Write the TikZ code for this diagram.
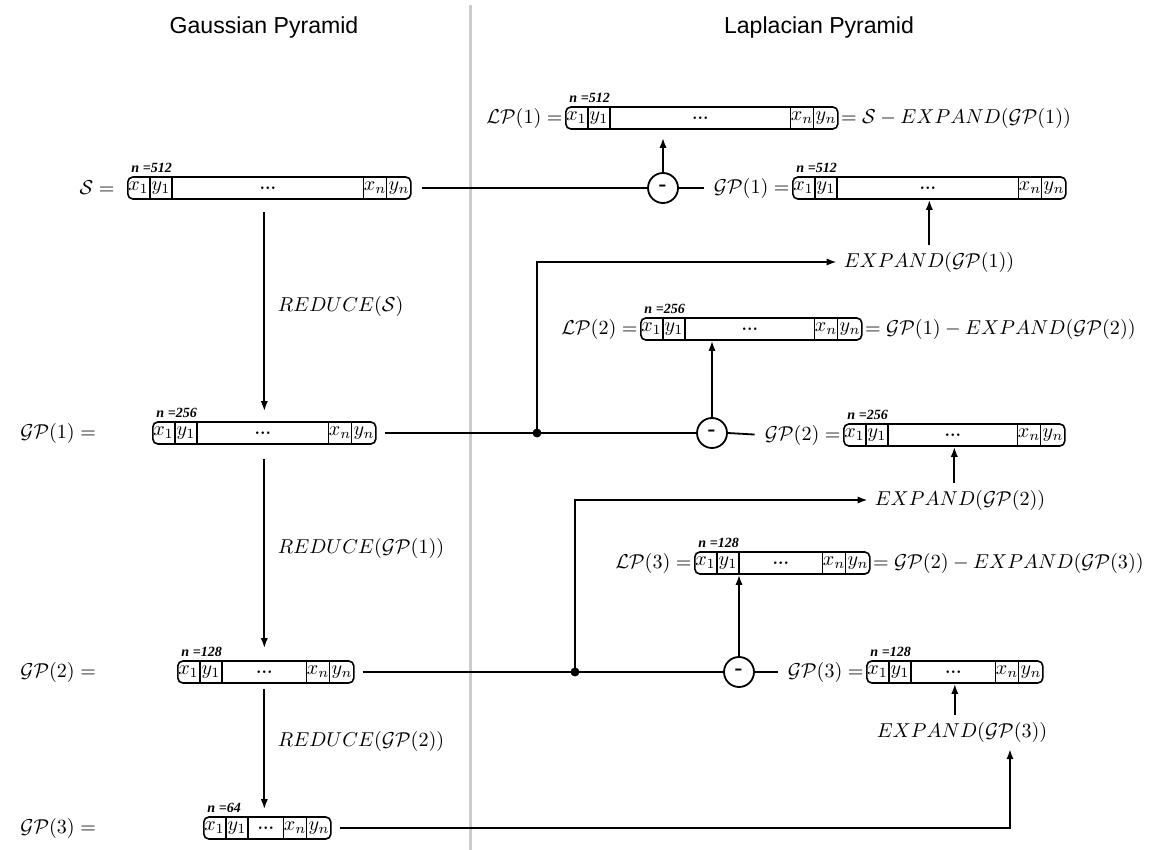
\documentclass[tikz,border=0pt]{standalone}
\usepackage{fontspec}
\newfontfamily\titlefont{Liberation Sans}
\newfontfamily\nfont{Liberation Serif}
\usetikzlibrary{calc}
\usetikzlibrary{arrows.meta}

\tikzset{
  vbox/.style={draw, rounded corners=2.5pt, minimum height=22*0.0175cm, inner sep=0pt, line width=0.8pt},
  cell/.style={inner sep=0pt},
  conn/.style={line width=0.9pt},
  arr/.style={conn, -{Latex[length=5pt,width=3.6pt]}},
  minus/.style={draw, circle, line width=0.9pt, minimum size=30*0.0175cm, inner sep=0pt, font=\bfseries},
  lbl/.style={inner sep=1pt},
  nlbl/.style={inner sep=0pt, font=\nfont\fontsize{7}{7}\selectfont\bfseries\itshape},
  ttl/.style={font=\titlefont\fontsize{11.5}{13}\selectfont},
}

% one array: name, left-middle point, width (px), n
\newcommand{\pyrvec}[4]{%
  \node[vbox, minimum width=#3*0.0175cm, anchor=west] (#1) at #2 {};
  \foreach \d in {23,45}
    \draw[line width=0.8pt] ([xshift=\d*0.0175cm]#1.north west) -- ([xshift=\d*0.0175cm]#1.south west);
  \foreach \d in {25,48}
    \draw[line width=0.8pt] ([xshift=-\d*0.0175cm]#1.north east) -- ([xshift=-\d*0.0175cm]#1.south east);
  \node[cell] (#1x1) at ([xshift=11.5*0.0175cm]#1.west) {$x_1$};
  \node[cell] (#1y1) at ([xshift=34*0.0175cm]#1.west) {$y_1$};
  \node[cell] (#1dots) at ([xshift=-1.5*0.0175cm]#1.center) {\footnotesize\bfseries ...};
  \node[cell] (#1xn) at ([xshift=-36.5*0.0175cm]#1.east) {$x_n$};
  \node[cell] (#1yn) at ([xshift=-12.5*0.0175cm]#1.east) {$y_n$};
  \node[nlbl, anchor=south west] (#1n) at ([xshift=2pt, yshift=1.5pt]#1.north west) {n =#4};
}

\begin{document}
\begin{tikzpicture}[x=0.0175cm, y=-0.0175cm]

\useasboundingbox (0,0) rectangle (1151,850);

\draw[gray!40, line width=1.5pt] (470,5) -- (470,850);

\node[ttl] (gtitle) at (264,28) {Gaussian Pyramid};
\node[ttl] (ltitle) at (819,28) {Laplacian Pyramid};

% Gaussian side
\pyrvec{S}{(127,188)}{283}{512}
\pyrvec{GPa}{(152,433)}{223}{256}
\pyrvec{GPb}{(177,672)}{176}{128}
\pyrvec{GPc}{(203,828)}{127}{64}

\node[lbl, anchor=east] (Slab) at (117,188) {$\mathcal{S} =$};
\node[lbl, anchor=west] (GPalab) at (18,433) {$\mathcal{GP}(1) =$};
\node[lbl, anchor=west] (GPblab) at (18,672) {$\mathcal{GP}(2) =$};
\node[lbl, anchor=west] (GPclab) at (18,828) {$\mathcal{GP}(3) =$};

\draw[arr, shorten <=6pt, shorten >=5pt] (S.south -| GPa.north) -- (GPa.north)
  node[midway, right=3pt, yshift=2pt] (red1) {$REDUCE(\mathcal{S})$};
\draw[arr, shorten <=7pt, shorten >=6pt] (GPa.south) -- (GPa.south |- GPb.north)
  node[midway, right=3pt, yshift=2pt] (red2) {$REDUCE(\mathcal{GP}(1))$};
\draw[arr, shorten <=2.5pt, shorten >=3.5pt] (GPb.south -| GPa.south) -- (GPc.north -| GPa.south)
  node[midway, right=3pt, yshift=4pt] (red3) {$REDUCE(\mathcal{GP}(2))$};

% Laplacian side
\pyrvec{LPa}{(565,118)}{272}{512}
\pyrvec{GPar}{(792,188)}{273}{512}
\pyrvec{LPb}{(640,329)}{221}{256}
\pyrvec{GPbr}{(843,435)}{221}{256}
\pyrvec{LPc}{(694,563)}{175}{128}
\pyrvec{GPcr}{(866,672)}{176}{128}

\node[lbl, anchor=east] (LPalab) at (LPa.west) {$\mathcal{LP}(1) =$};
\node[lbl, anchor=west] (LPaeq) at (LPa.east) {$= \mathcal{S} - EXPAND(\mathcal{GP}(1))$};
\node[lbl, anchor=east] (LPblab) at (LPb.west) {$\mathcal{LP}(2) =$};
\node[lbl, anchor=west] (LPbeq) at (LPb.east) {$= \mathcal{GP}(1) - EXPAND(\mathcal{GP}(2))$};
\node[lbl, anchor=east] (LPclab) at (LPc.west) {$\mathcal{LP}(3) =$};
\node[lbl, anchor=west] (LPceq) at (LPc.east) {$= \mathcal{GP}(2) - EXPAND(\mathcal{GP}(3))$};

\node[lbl, anchor=east] (GParlab) at (GPar.west) {$\mathcal{GP}(1) =$};
\node[lbl, anchor=east] (GPbrlab) at (GPbr.west) {$\mathcal{GP}(2) =$};
\node[lbl, anchor=east] (GPcrlab) at (GPcr.west) {$\mathcal{GP}(3) =$};

\node (ex1) at (929,262) {$EXPAND(\mathcal{GP}(1))$};
\node (ex2) at (960,500) {$EXPAND(\mathcal{GP}(2))$};
\node (ex3) at (962,732) {$EXPAND(\mathcal{GP}(3))$};

\node[minus] (m1) at (663,188) {-};
\node[minus] (m2) at (712,433) {-};
\node[minus] (m3) at (739,672) {-};

\coordinate (j1) at (537,433);
\coordinate (j2) at (575,672);
\coordinate (c3) at (1010,828);

% subtraction inputs
\draw[conn, shorten <=5pt] (S.east) -- (m1.west);
\draw[conn, shorten >=4pt] (m1.east) -- (GParlab.west);
\draw[conn, shorten <=4pt] (GPa.east) -- (m2.west);
\draw[conn, shorten >=4pt] (m2.east) -- (GPbrlab.west);
\draw[conn, shorten <=4pt] (GPb.east) -- (m3.west);
\draw[conn, shorten >=4pt] (m3.east) -- (GPcrlab.west);

\filldraw (j1) circle (2pt);
\filldraw (j2) circle (2pt);

% expand branches
\draw[arr] (j1) |- (ex1.west);
\draw[arr] (j2) |- (ex2.west);
\draw[arr, shorten <=4pt] (GPc.east) -- (c3) -- (c3 |- ex3.south);

\draw[arr] (GPar.south |- ex1.north) -- (GPar.south);
\draw[arr] (GPbr.south |- ex2.north) -- (GPbr.south);
\draw[arr] (GPcr.south |- ex3.north) -- (GPcr.south);

% differences up to LP
\draw[arr, shorten >=4pt] (m1.north) -- (m1.north |- LPa.south);
\draw[arr] (m2.north) -- (m2.north |- LPb.south);
\draw[arr] (m3.north) -- (m3.north |- LPc.south);

\end{tikzpicture}
\end{document}
